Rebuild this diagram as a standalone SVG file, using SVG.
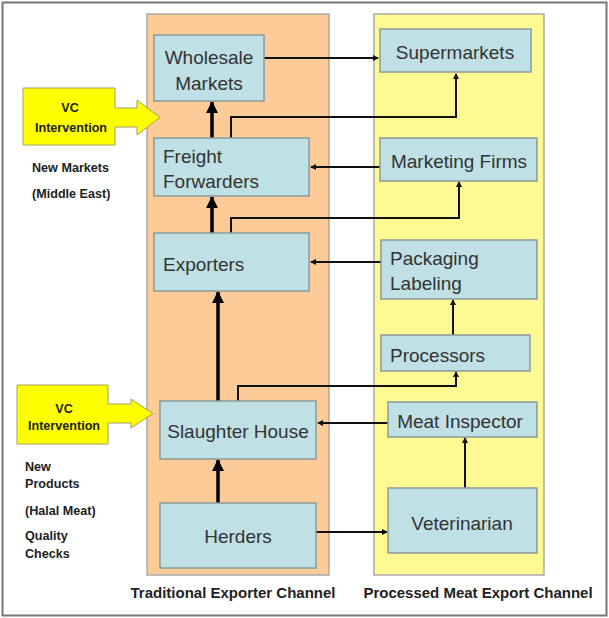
<svg xmlns="http://www.w3.org/2000/svg" width="609" height="618" viewBox="0 0 609 618">
<style>
.box{fill:#bfe0e4;stroke:#8a9a9a;stroke-width:1.5}
.bt{font-family:"Liberation Sans",Arial,sans-serif;font-size:19px;fill:#333}
.lb{font-family:"Liberation Sans",Arial,sans-serif;font-size:12.6px;font-weight:bold;fill:#222}
.ch{font-family:"Liberation Sans",Arial,sans-serif;font-size:15px;font-weight:bold;fill:#222}
.thin{fill:none;stroke:#111;stroke-width:2;marker-end:url(#sa)}
.thick{fill:none;stroke:#000;stroke-width:3.5;marker-end:url(#ta)}
.vc{fill:#ffff00;stroke:#a0a060;stroke-width:1}
</style>
<defs>
<marker id="sa" markerUnits="userSpaceOnUse" markerWidth="8" markerHeight="8" refX="5" refY="3" orient="auto">
<path d="M0,0 L6,3 L0,6 z" fill="#111"/>
</marker>
<marker id="ta" markerUnits="userSpaceOnUse" markerWidth="14" markerHeight="14" refX="11" refY="6" orient="auto">
<path d="M0,0 L12,6 L0,12 z" fill="#000"/>
</marker>
</defs>
<rect x="2.5" y="2.5" width="604" height="613" fill="#fff" stroke="#777" stroke-width="2"/>
<g id="panel-traditional">
<rect x="147" y="14" width="182" height="561" fill="#fccb98" stroke="#aaa" stroke-width="1.5"/>
<text class="ch" x="233" y="598" text-anchor="middle">Traditional Exporter Channel</text>
</g>
<g id="panel-processed">
<rect x="374" y="14" width="170" height="561" fill="#fff993" stroke="#aaa" stroke-width="1.5"/>
<text class="ch" x="478" y="598" text-anchor="middle">Processed Meat Export Channel</text>
</g>
<g id="connectors">
<path class="thin" d="M264,58 H378"/>
<path class="thin" d="M231,138 V117 H456 V74"/>
<path class="thick" d="M212,138 V102"/>
<path class="thin" d="M380,167 H311"/>
<path class="thin" d="M231,233 V218 H459 V182"/>
<path class="thick" d="M212,233 V197"/>
<path class="thin" d="M381,262 H311"/>
<path class="thin" d="M453,335 V300"/>
<path class="thin" d="M238,401 V386 H456 V372"/>
<path class="thick" d="M218,401 V292"/>
<path class="thin" d="M388,423 H318"/>
<path class="thin" d="M465,488 V438"/>
<path class="thick" d="M218,503 V460"/>
<path class="thin" d="M316,532 H387"/>
</g>
<g id="wholesale-markets">
<rect class="box" x="154" y="35" width="110" height="66"/>
<text class="bt" x="209" y="64" text-anchor="middle">Wholesale</text>
<text class="bt" x="209" y="90" text-anchor="middle">Markets</text>
</g>
<g id="freight-forwarders">
<rect class="box" x="154" y="138" width="155" height="58"/>
<text class="bt" x="163" y="163">Freight</text>
<text class="bt" x="163" y="188">Forwarders</text>
</g>
<g id="exporters">
<rect class="box" x="154" y="233" width="155" height="58"/>
<text class="bt" x="163" y="271">Exporters</text>
</g>
<g id="slaughter-house">
<rect class="box" x="160" y="401" width="156" height="58"/>
<text class="bt" x="238" y="438" text-anchor="middle">Slaughter House</text>
</g>
<g id="herders">
<rect class="box" x="160" y="503" width="156" height="65"/>
<text class="bt" x="238" y="543" text-anchor="middle">Herders</text>
</g>
<g id="supermarkets">
<rect class="box" x="380" y="29" width="151" height="43"/>
<text class="bt" x="455" y="59" text-anchor="middle">Supermarkets</text>
</g>
<g id="marketing-firms">
<rect class="box" x="380" y="138" width="157" height="43"/>
<text class="bt" x="459" y="168" text-anchor="middle">Marketing Firms</text>
</g>
<g id="packaging-labeling">
<rect class="box" x="381" y="240" width="156" height="59"/>
<text class="bt" x="390" y="265">Packaging</text>
<text class="bt" x="390" y="290">Labeling</text>
</g>
<g id="processors">
<rect class="box" x="381" y="335" width="149" height="36"/>
<text class="bt" x="390" y="362">Processors</text>
</g>
<g id="meat-inspector">
<rect class="box" x="388" y="402" width="149" height="35"/>
<text class="bt" x="460" y="428" text-anchor="middle">Meat Inspector</text>
</g>
<g id="veterinarian">
<rect class="box" x="388" y="488" width="149" height="65"/>
<text class="bt" x="462" y="530" text-anchor="middle">Veterinarian</text>
</g>
<g id="vc-intervention-1">
<path class="vc" d="M23,88 H115 V108 H137 V100 L160,117.5 L137,135 V127 H115 V145 H23 Z"/>
<text class="lb" x="70" y="112" text-anchor="middle">VC</text>
<text class="lb" x="71" y="132" text-anchor="middle">Intervention</text>
</g>
<g id="vc-intervention-2">
<path class="vc" d="M17,385 H108 V404 H131 V399 L153,413.5 L131,428 V423 H108 V444 H17 Z"/>
<text class="lb" x="64" y="413" text-anchor="middle">VC</text>
<text class="lb" x="64" y="430" text-anchor="middle">Intervention</text>
</g>
<g id="notes-markets">
<text class="lb" x="32" y="172">New Markets</text>
<text class="lb" x="32" y="198">(Middle East)</text>
</g>
<g id="notes-products">
<text class="lb" x="25" y="471">New</text>
<text class="lb" x="25" y="488">Products</text>
<text class="lb" x="25" y="515">(Halal Meat)</text>
<text class="lb" x="25" y="540">Quality</text>
<text class="lb" x="25" y="558">Checks</text>
</g>
</svg>
